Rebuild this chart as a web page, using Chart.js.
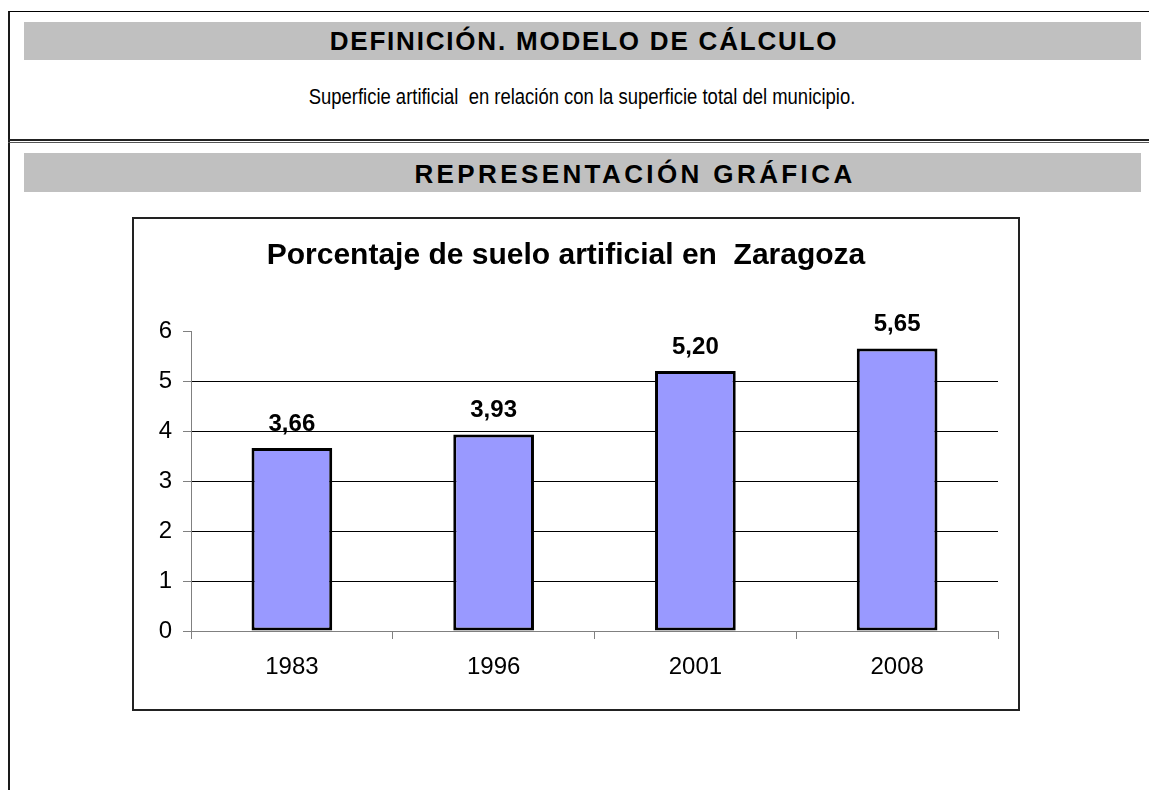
<!DOCTYPE html>
<html lang="es">
<head>
<meta charset="utf-8">
<title>Porcentaje de suelo artificial en Zaragoza</title>
<script src="https://cdn.jsdelivr.net/npm/chart.js@4.4.1/dist/chart.umd.min.js"></script>
<style>
    html, body { margin: 0; padding: 0; background: #fff; }
    body {
        width: 1149px; height: 790px; overflow: hidden; position: relative;
        font-family: "Liberation Sans", Arial, sans-serif; color: #000;
    }
    .frame {
        position: absolute; left: 8px; top: 11px; width: 1400px; height: 900px;
        border-left: 2px solid #1a1a1a; border-top: 1px solid #000;
    }
    .rule {
        position: absolute; left: 8px; top: 139px; width: 1400px; height: 1px;
        border-top: 2px solid #222; border-bottom: 1px solid #555;
    }
    .band { position: absolute; left: 24px; width: 1117px; background: #c0c0c0; }
    .heading {
        position: absolute; left: 24px; text-align: center;
        font-weight: bold; font-size: 26px; white-space: pre;
    }
    .subtitle {
        position: absolute; left: 24px; top: 80px; width: 1116px; height: 34px;
        line-height: 34px; text-align: center; white-space: pre;
        font-family: "Liberation Sans Narrow", "Arial Narrow", sans-serif; font-size: 22.5px;
    }
    .chart-box {
        position: absolute; left: 132px; top: 217px; width: 888px; height: 494px;
        box-sizing: border-box; border: 2px solid #222; background: #fff;
    }
    .chart-box canvas { display: block; }
</style>
</head>
<body>
<div class="frame"></div>
<div class="rule"></div>

<div class="band" style="top:22px;height:38px;"></div>
<div class="heading" style="top:22px;line-height:38px;width:1120px;letter-spacing:1.8px;">DEFINICIÓN. MODELO DE CÁLCULO</div>
<div class="subtitle" id="subtitle">Superficie artificial  en relación con la superficie total del municipio.</div>

<div class="band" style="top:153px;height:39px;"></div>
<div class="heading" style="top:153px;line-height:42px;width:1222px;letter-spacing:3.4px;">REPRESENTACIÓN GRÁFICA</div>

<div class="chart-box">
    <canvas id="sueloChart" width="884" height="490"></canvas>
</div>

<script>
"use strict";

// --- Data ---
const YEARS = ['1983', '1996', '2001', '2008'];
const ARTIFICIAL_PCT = [3.66, 3.93, 5.20, 5.65];
const Y_MIN = 0;
const Y_MAX = 6;
const Y_STEP = 1;
const CHART_TITLE = 'Porcentaje de suelo artificial en  Zaragoza';

const FONT = '"Liberation Sans", Arial, sans-serif';
const AXIS_GREY = '#808080';

// Fall back to a squeezed regular face if the narrow one is missing
function fontAvailable(name) {
    const c = document.createElement('canvas').getContext('2d');
    const sample = 'Superficie artificial';
    c.font = '22px monospace';
    const base = c.measureText(sample).width;
    c.font = `22px "${name}", monospace`;
    return c.measureText(sample).width !== base;
}
if (!fontAvailable('Liberation Sans Narrow')) {
    const sub = document.getElementById('subtitle');
    sub.style.fontFamily = FONT;
    sub.style.transform = 'scaleX(0.82)';
    sub.style.transformOrigin = '558px 0';
}

/** Writes each bar's value above it, with a decimal comma. */
const barValueLabels = {
    id: 'barValueLabels',
    afterDatasetsDraw(chart) {
        const { ctx } = chart;
        const meta = chart.getDatasetMeta(0);
        const values = chart.data.datasets[0].data;
        ctx.save();
        ctx.font = `bold 24px ${FONT}`;
        ctx.fillStyle = '#000';
        ctx.textAlign = 'center';
        ctx.textBaseline = 'middle';
        meta.data.forEach((bar, i) => {
            ctx.fillText(values[i].toFixed(2).replace('.', ','), bar.x, bar.y - 24);
        });
        ctx.restore();
    }
};

Chart.defaults.font.family = FONT;
Chart.defaults.color = '#000';

new Chart(document.getElementById('sueloChart').getContext('2d'), {
    type: 'bar',
    data: {
        labels: YEARS,
        datasets: [{
            label: 'Suelo artificial (%)',
            data: ARTIFICIAL_PCT,
            backgroundColor: '#9999ff',
            borderColor: '#000',
            borderWidth: 3,
            borderSkipped: false,
            categoryPercentage: 1,
            barPercentage: 0.4
        }]
    },
    options: {
        responsive: false,
        animation: false,
        devicePixelRatio: 1,
        layout: { padding: { left: 0, right: 20, top: 0, bottom: 0 } },
        plugins: {
            legend: { display: false },
            tooltip: { enabled: false },
            title: {
                display: true,
                text: CHART_TITLE,
                color: '#000',
                font: { size: 30, weight: 'bold' },
                padding: { top: 19, bottom: 57 }
            }
        },
        scales: {
            x: {
                offset: true,
                grid: {
                    offset: true,
                    drawOnChartArea: false,
                    drawTicks: true,
                    tickLength: 8,
                    color: AXIS_GREY,
                    tickColor: AXIS_GREY
                },
                border: { display: true, color: AXIS_GREY, width: 1 },
                ticks: { color: '#000', font: { size: 24 }, padding: 14, maxRotation: 0 },
                afterFit: scale => { scale.height = 78; }
            },
            y: {
                min: Y_MIN,
                max: Y_MAX,
                ticks: { stepSize: Y_STEP, color: '#000', font: { size: 24 }, padding: 11 },
                grid: {
                    drawTicks: true,
                    tickLength: 8,
                    tickColor: AXIS_GREY,
                    color: ctx => {
                        const v = ctx.tick ? ctx.tick.value : null;
                        if (v === Y_MAX) return 'rgba(0,0,0,0)';
                        if (v === Y_MIN) return AXIS_GREY;
                        return '#000';
                    }
                },
                border: { display: true, color: AXIS_GREY, width: 1 },
                afterFit: scale => { scale.width = 57; }
            }
        }
    },
    plugins: [barValueLabels]
});
</script>
</body>
</html>
